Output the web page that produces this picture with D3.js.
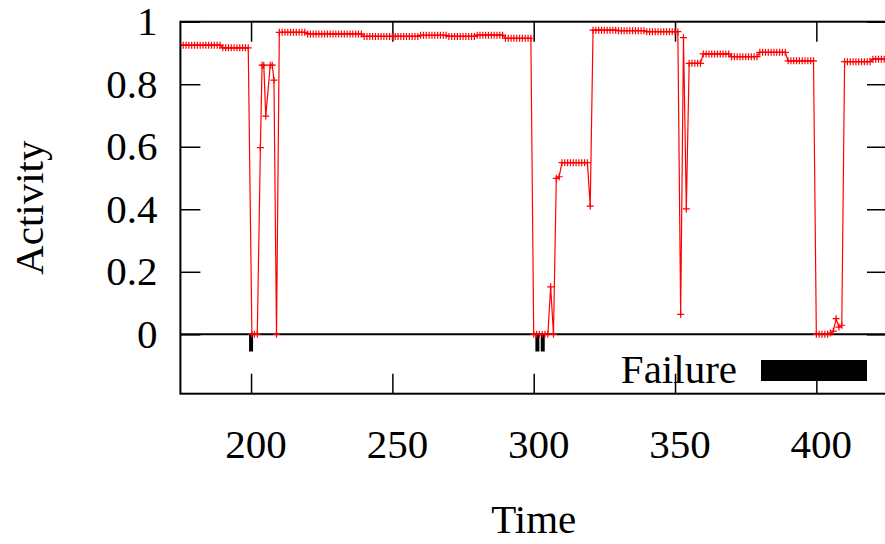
<!DOCTYPE html>
<html>
<head>
<meta charset="utf-8">
<script src="https://cdn.jsdelivr.net/npm/d3@7"></script>
<style>
  body { margin: 0; background: #fff; }
  svg { display: block; }
  text { font-family: "Liberation Serif", "Times New Roman", serif; fill: #000; }
</style>
</head>
<body>
<svg id="chart" width="885" height="544"></svg>
<script>
// Activity samples over time
const time = [
  175,176,177,178,179,180,181,182,183,184,
  185,186,187,188,189,190,191,192,193,194,
  195,196,197,198,199,
  200.3,201.2,202.2,203.3,203.9,204.5,205.2,206.8,207.5,208.1,209,
  210,211,212,213,214,215,216,217,218,219,
  220,221,222,223,224,225,226,227,228,229,
  230,231,232,233,234,235,236,237,238,239,
  240,241,242,243,244,245,246,247,248,249,
  250,251,252,253,254,255,256,257,258,259,
  260,261,262,263,264,265,266,267,268,269,
  270,271,272,273,274,275,276,277,278,279,
  280,281,282,283,284,285,286,287,288,289,
  290,291,292,293,294,295,296,297,298,299,
  300,301,302,303,304,305,306,307,308,309,
  310,311,312,313,314,315,316,317,318,319,
  320,321,322,323,324,325,326,327,328,329,
  330,331,332,333,334,335,336,337,338,339,
  340,341,342,343,344,345,346,347,348,349,
  350,351,352,353,354,355,356,357,358,359,
  360,361,362,363,364,365,366,367,368,369,
  370,371,372,373,374,375,376,377,378,379,
  380,381,382,383,384,385,386,387,388,389,
  390,391,392,393,394,395,396,397,398,399,
  400,401,402,403,404,405,406,407,408,409,
  410,411,412,413,414,415,416,417,418,419,
  420,421,422,423,424,425
];
const activity = [
  0.925,0.925,0.925,0.925,0.925,0.925,0.925,0.925,0.925,0.925,
  0.925,0.925,0.925,0.925,0.925,0.9165,0.9165,0.9165,0.9165,0.9165,
  0.9165,0.9165,0.9165,0.9165,0.9165,
  0,0,0,0.597,0.861,0.861,0.698,0.861,0.861,0.813,0,
  0.966,0.966,0.966,0.966,0.966,0.966,0.966,0.966,0.966,0.966,
  0.961,0.961,0.961,0.961,0.961,0.961,0.961,0.961,0.961,0.961,
  0.961,0.961,0.961,0.961,0.961,0.961,0.961,0.961,0.961,0.961,
  0.953,0.953,0.953,0.953,0.953,0.953,0.953,0.953,0.953,0.953,
  0.953,0.953,0.953,0.953,0.953,0.953,0.953,0.953,0.953,0.953,
  0.9565,0.9565,0.9565,0.9565,0.9565,0.9565,0.9565,0.9565,0.9565,0.9565,
  0.953,0.953,0.953,0.953,0.953,0.953,0.953,0.953,0.953,0.953,
  0.957,0.957,0.957,0.957,0.957,0.957,0.957,0.957,0.957,0.957,
  0.947,0.947,0.947,0.947,0.947,0.947,0.947,0.947,0.947,0.947,
  0,0,0,0,0,0,0.152,0,0.499,0.504,
  0.549,0.549,0.549,0.549,0.549,0.549,0.549,0.549,0.549,0.549,
  0.41,0.973,0.973,0.973,0.973,0.973,0.973,0.973,0.973,0.973,
  0.971,0.971,0.971,0.971,0.971,0.971,0.971,0.971,0.971,0.971,
  0.968,0.968,0.968,0.968,0.968,0.968,0.968,0.968,0.968,0.968,
  0.968,0.968,0.064,0.949,0.401,0.867,0.867,0.867,0.867,0.867,
  0.897,0.897,0.897,0.897,0.897,0.897,0.897,0.897,0.897,0.897,
  0.888,0.888,0.888,0.888,0.888,0.888,0.888,0.888,0.888,0.888,
  0.902,0.902,0.902,0.902,0.902,0.902,0.902,0.902,0.902,0.902,
  0.875,0.875,0.875,0.875,0.875,0.875,0.875,0.875,0.875,0.875,
  0,0,0,0,0,0.004,0.01,0.05,0.023,0.029,
  0.872,0.872,0.872,0.872,0.872,0.872,0.872,0.872,0.872,0.872,
  0.88,0.88,0.88,0.88,0.88,0.88
];

// Failure events, drawn as short impulses below zero
const failureTime = [200, 301.3, 303.2];
const failureDepth = [-0.055, -0.055, -0.055];

const xTicks = [200, 250, 300, 350, 400];
const yTicks = [0, 0.2, 0.4, 0.6, 0.8, 1];
const xTitle = "Time";
const yTitle = "Activity";
const legendLabel = "Failure";

const svg = d3.select("#chart");
const plotLeft = 180.4, plotRight = 887, plotTop = 21.7, plotBottom = 393.7;
const fontSize = 41;

const x = d3.scaleLinear().domain([175, 425]).range([plotLeft, plotRight]);
const y = d3.scaleLinear().domain([-0.19, 1]).range([plotBottom, plotTop]);

svg.append("defs").append("clipPath").attr("id", "plotClip")
  .append("rect").attr("x", plotLeft).attr("y", plotTop)
  .attr("width", plotRight - plotLeft).attr("height", plotBottom - plotTop);

// Axes with inward ticks, mirrored on top and right
const styleAxis = g => {
  g.select(".domain").remove();
  g.selectAll(".tick line").attr("stroke", "#000").attr("stroke-width", 1.5);
  g.selectAll(".tick text").style("font-size", fontSize + "px")
    .style("font-family", '"Liberation Serif", "Times New Roman", serif').attr("fill", "#000");
};

svg.append("g").attr("transform", `translate(${plotLeft},0)`)
  .call(d3.axisLeft(y).tickValues(yTicks).tickSize(-20).tickPadding(23)
    .tickFormat(d => String(+d.toFixed(1))))
  .call(styleAxis);

svg.append("g").attr("transform", `translate(${plotRight},0)`)
  .call(d3.axisRight(y).tickValues(yTicks).tickSize(-20).tickFormat(""))
  .call(styleAxis);

svg.append("g").attr("transform", `translate(0,${plotBottom})`)
  .call(d3.axisBottom(x).tickValues(xTicks).tickSize(-20).tickPadding(35)
    .tickFormat(d3.format("d")))
  .call(styleAxis)
  .call(g => g.selectAll(".tick text").attr("x", 4.5));

svg.append("g").attr("transform", `translate(0,${plotTop})`)
  .call(d3.axisTop(x).tickValues(xTicks).tickSize(-20).tickFormat(""))
  .call(styleAxis);

// Zero line
svg.append("line")
  .attr("x1", plotLeft).attr("x2", plotRight)
  .attr("y1", y(0)).attr("y2", y(0))
  .attr("stroke", "#000").attr("stroke-width", 2);

// Failure impulses
svg.append("g").selectAll("line")
  .data(failureTime.map((t, i) => [t, failureDepth[i]]))
  .join("line")
  .attr("x1", d => x(d[0])).attr("x2", d => x(d[0]))
  .attr("y1", y(0)).attr("y2", d => y(d[1]))
  .attr("stroke", "#000").attr("stroke-width", 4);

// Activity line with + markers
const points = time.map((t, i) => [t, activity[i]]);
const plot = svg.append("g").attr("clip-path", "url(#plotClip)");
plot.append("path")
  .datum(points)
  .attr("fill", "none").attr("stroke", "#ff0000").attr("stroke-width", 1.2)
  .attr("d", d3.line().x(d => x(d[0])).y(d => y(d[1])));
plot.append("g").selectAll("path")
  .data(points)
  .join("path")
  .attr("transform", d => `translate(${x(d[0])},${y(d[1])})`)
  .attr("d", "M-3.5,0H3.5M0,-3.5V3.5")
  .attr("stroke", "#ff0000").attr("stroke-width", 1.2).attr("fill", "none");

// Border
svg.append("rect")
  .attr("x", plotLeft).attr("y", plotTop)
  .attr("width", plotRight - plotLeft).attr("height", plotBottom - plotTop)
  .attr("fill", "none").attr("stroke", "#000").attr("stroke-width", 2);

// Legend
svg.append("text")
  .attr("x", 737).attr("y", 383)
  .attr("text-anchor", "end")
  .style("font-size", fontSize + "px")
  .text(legendLabel);
svg.append("rect")
  .attr("x", 761).attr("y", 360).attr("width", 106).attr("height", 21)
  .attr("fill", "#000");

// Axis titles
svg.append("text")
  .attr("x", (plotLeft + plotRight) / 2).attr("y", 533)
  .attr("text-anchor", "middle")
  .style("font-size", fontSize + "px")
  .text(xTitle);
svg.append("text")
  .attr("transform", `translate(43,${(plotTop + plotBottom) / 2}) rotate(-90)`)
  .attr("text-anchor", "middle")
  .style("font-size", fontSize + "px")
  .text(yTitle);
</script>
</body>
</html>
